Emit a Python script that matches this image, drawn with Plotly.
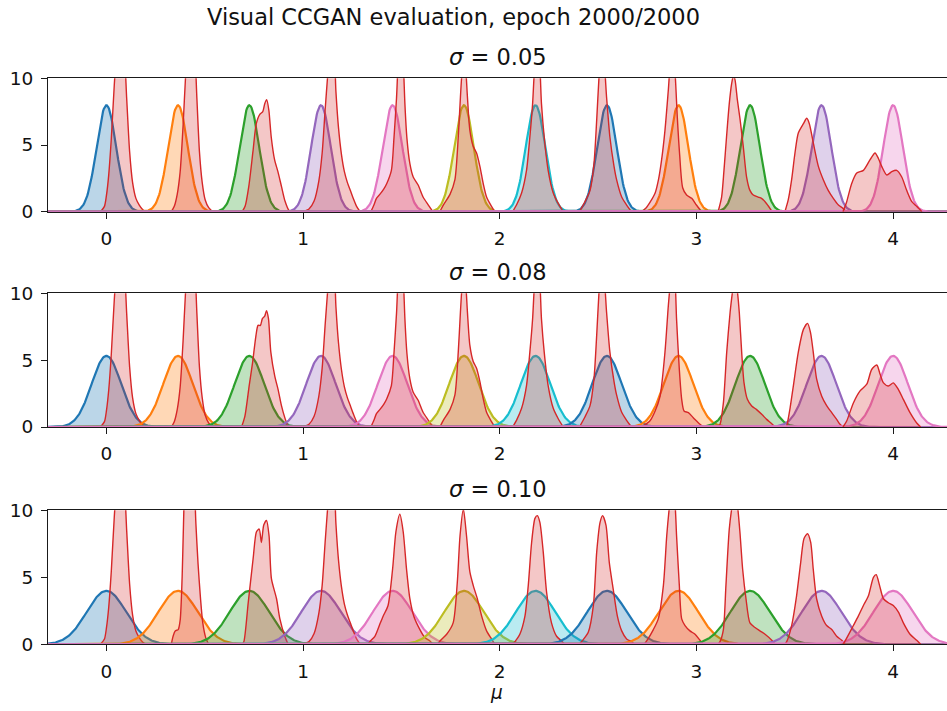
import numpy as np
import plotly.graph_objects as go

# ---------------- data ----------------
MU = [0.0, 0.364, 0.727, 1.091, 1.455, 1.818, 2.182, 2.545, 2.909, 3.273, 3.636, 4.0]
SIGMAS = [0.05, 0.075, 0.10]
PANEL_TITLES = ["<i>σ</i> = 0.05", "<i>σ</i> = 0.08", "<i>σ</i> = 0.10"]
SUPTITLE = "Visual CCGAN evaluation, epoch 2000/2000"
XLABEL = "<i>μ</i>"
COLORS = ["#1f77b4", "#ff7f0e", "#2ca02c", "#9467bd", "#e377c2", "#bcbd22",
          "#17becf", "#1f77b4", "#ff7f0e", "#2ca02c", "#9467bd", "#e377c2"]
X_TICKS = [0, 1, 2, 3, 4]
Y_TICKS = [0, 5, 10]

# generated (red) densities, as (mu, density) pairs
GEN_005 = [
    [(-0.03, 0), (-0.01, 0.4), (0.0, 1.2), (0.012, 2.8), (0.025, 5.5), (0.04, 9.5), (0.055, 12.5), (0.07, 13.5), (0.088, 12.5), (0.103, 8.5), (0.118, 4.5), (0.133, 2.2), (0.15, 1.0), (0.167, 0.5), (0.185, 0.15), (0.2, 0)],
    [(0.33, 0), (0.345, 0.4), (0.36, 1.3), (0.375, 3.0), (0.39, 6.5), (0.402, 10), (0.417, 13), (0.432, 13.5), (0.447, 12.5), (0.46, 8.5), (0.473, 4.5), (0.487, 2.2), (0.502, 0.9), (0.52, 0.3), (0.54, 0)],
    [(0.69, 0), (0.705, 0.4), (0.724, 1.9), (0.745, 4.5), (0.762, 6.6), (0.78, 7.3), (0.795, 7.5), (0.805, 8.1), (0.815, 8.4), (0.826, 7.6), (0.838, 5.6), (0.855, 3.9), (0.872, 3.0), (0.89, 1.9), (0.908, 0.8), (0.928, 0.1), (0.94, 0)],
    [(1.0, 0), (1.03, 0.2), (1.056, 0.8), (1.08, 2.3), (1.097, 4.4), (1.112, 7.6), (1.125, 10.2), (1.14, 13), (1.155, 12.5), (1.167, 9), (1.18, 6.3), (1.195, 4.3), (1.21, 3.0), (1.225, 2.2), (1.24, 1.6), (1.255, 1.0), (1.272, 0.4), (1.29, 0)],
    [(1.345, 0), (1.36, 0.5), (1.373, 1.0), (1.39, 1.3), (1.41, 1.7), (1.425, 2.1), (1.449, 3.1), (1.462, 5.5), (1.475, 8.5), (1.487, 12), (1.5, 13), (1.51, 11), (1.518, 8), (1.528, 5.5), (1.543, 3.6), (1.56, 2.6), (1.585, 2.0), (1.61, 1.1), (1.637, 0.5), (1.66, 0)],
    [(1.695, 0), (1.713, 0.5), (1.747, 1.3), (1.772, 2.4), (1.789, 5.6), (1.8, 8.6), (1.808, 10.5), (1.818, 12), (1.828, 10.5), (1.836, 8.5), (1.848, 6.1), (1.865, 4.9), (1.882, 4.4), (1.899, 3.4), (1.916, 2.1), (1.933, 1.1), (1.958, 0.4), (1.975, 0)],
    [(2.065, 0), (2.085, 0.5), (2.111, 1.4), (2.136, 3.1), (2.153, 5.6), (2.167, 8.1), (2.176, 10.5), (2.188, 12), (2.2, 11.5), (2.212, 8.1), (2.226, 5.6), (2.246, 3.1), (2.272, 1.4), (2.298, 0.6), (2.323, 0)],
    [(2.405, 0), (2.433, 0.75), (2.459, 1.6), (2.479, 3.6), (2.493, 6.9), (2.505, 10.2), (2.515, 12), (2.528, 11.5), (2.543, 8.6), (2.56, 5.6), (2.581, 3.4), (2.594, 2.4), (2.62, 1.1), (2.645, 0.5), (2.67, 0)],
    [(2.72, 0), (2.745, 0.3), (2.766, 0.75), (2.79, 1.4), (2.807, 2.4), (2.823, 3.9), (2.84, 6.1), (2.857, 9.1), (2.87, 11.5), (2.882, 12), (2.893, 10), (2.903, 7), (2.915, 4.2), (2.93, 1.8), (2.95, 1.25), (2.976, 1.0), (3.0, 0.5), (3.026, 0)],
    [(3.11, 0), (3.128, 1.1), (3.14, 3.1), (3.153, 5.6), (3.167, 8.1), (3.179, 9.6), (3.188, 10.2), (3.196, 9.9), (3.208, 8.4), (3.222, 6.9), (3.238, 4.9), (3.255, 2.6), (3.272, 1.6), (3.289, 1.25), (3.314, 1.1), (3.331, 1.0), (3.357, 0.6), (3.385, 0)],
    [(3.45, 0), (3.467, 0.9), (3.484, 2.4), (3.501, 4.4), (3.518, 5.9), (3.544, 6.6), (3.561, 7.0), (3.574, 6.6), (3.595, 5.1), (3.62, 3.4), (3.645, 2.4), (3.67, 1.6), (3.696, 1.0), (3.722, 0.5), (3.745, 0.25), (3.76, 0)],
    [(3.745, 0), (3.764, 0.75), (3.789, 2.1), (3.815, 2.9), (3.849, 3.1), (3.883, 3.9), (3.908, 4.4), (3.925, 4.0), (3.942, 3.4), (3.968, 2.75), (3.993, 3.0), (4.018, 3.1), (4.044, 2.6), (4.069, 1.6), (4.095, 0.75), (4.12, 0.4), (4.146, 0)],
]

GEN_008 = [
    [(-0.03, 0), (-0.01, 0.4), (0.0, 1.2), (0.012, 2.8), (0.025, 5.5), (0.04, 9.5), (0.055, 12.5), (0.07, 13.5), (0.088, 12.5), (0.103, 8.5), (0.118, 4.5), (0.133, 2.2), (0.15, 1.0), (0.167, 0.5), (0.185, 0.15), (0.2, 0)],
    [(0.33, 0), (0.345, 0.4), (0.36, 1.3), (0.375, 3.0), (0.39, 6.5), (0.402, 10), (0.417, 13), (0.432, 13.5), (0.447, 12.5), (0.46, 8.5), (0.473, 4.5), (0.487, 2.2), (0.502, 0.9), (0.52, 0.3), (0.54, 0)],
    [(0.687, 0), (0.704, 0.8), (0.726, 3.1), (0.743, 4.8), (0.76, 6.8), (0.771, 7.6), (0.783, 7.6), (0.793, 8.1), (0.805, 8.3), (0.814, 8.7), (0.824, 8.1), (0.836, 5.6), (0.856, 3.8), (0.873, 2.8), (0.89, 1.6), (0.907, 0.7), (0.924, 0)],
    [(1.0, 0), (1.03, 0.2), (1.056, 0.8), (1.08, 2.3), (1.097, 4.4), (1.112, 7.6), (1.125, 10.2), (1.14, 13), (1.155, 12.5), (1.167, 9), (1.18, 6.3), (1.195, 4.3), (1.21, 3.0), (1.225, 2.2), (1.24, 1.6), (1.255, 1.0), (1.272, 0.4), (1.29, 0)],
    [(1.345, 0), (1.36, 0.5), (1.373, 1.0), (1.39, 1.3), (1.41, 1.7), (1.425, 2.1), (1.449, 3.1), (1.462, 5.5), (1.475, 8.5), (1.487, 12), (1.5, 13), (1.51, 11), (1.518, 8), (1.528, 5.5), (1.543, 3.6), (1.56, 2.6), (1.585, 2.0), (1.61, 1.1), (1.637, 0.5), (1.66, 0)],
    [(1.695, 0), (1.713, 0.5), (1.747, 1.3), (1.772, 2.4), (1.789, 5.6), (1.8, 8.6), (1.808, 10.5), (1.818, 12), (1.828, 10.5), (1.836, 8.5), (1.848, 6.1), (1.865, 4.9), (1.882, 4.4), (1.899, 3.4), (1.916, 2.1), (1.933, 1.1), (1.958, 0.4), (1.975, 0)],
    [(2.065, 0), (2.085, 0.5), (2.111, 1.4), (2.136, 3.1), (2.153, 5.6), (2.167, 8.1), (2.176, 10.5), (2.188, 12), (2.2, 11.5), (2.212, 8.1), (2.226, 5.6), (2.246, 3.1), (2.272, 1.4), (2.298, 0.6), (2.323, 0)],
    [(2.405, 0), (2.433, 0.75), (2.459, 1.6), (2.479, 3.6), (2.493, 6.9), (2.505, 10.2), (2.515, 12), (2.528, 11.5), (2.543, 8.6), (2.56, 5.6), (2.581, 3.4), (2.594, 2.4), (2.62, 1.1), (2.645, 0.5), (2.67, 0)],
    [(2.72, 0), (2.763, 0.45), (2.79, 1.2), (2.815, 2.3), (2.84, 5.6), (2.857, 9.05), (2.869, 11), (2.88, 12), (2.891, 11), (2.899, 8.05), (2.913, 4.3), (2.925, 2.07), (2.937, 1.2), (2.959, 1.07), (2.984, 0.7), (3.018, 0.2), (3.035, 0)],
    [(3.11, 0), (3.12, 0.2), (3.137, 1.8), (3.154, 5.6), (3.171, 8.55), (3.184, 10.2), (3.196, 11.5), (3.208, 10.2), (3.218, 8.55), (3.23, 5.6), (3.242, 3.3), (3.259, 2.07), (3.281, 1.57), (3.306, 1.3), (3.332, 0.95), (3.357, 0.57), (3.383, 0.25), (3.4, 0)],
    [(3.459, 0), (3.476, 1.4), (3.493, 3.1), (3.518, 5.6), (3.544, 7.3), (3.565, 7.75), (3.58, 7.06), (3.594, 5.6), (3.611, 3.6), (3.637, 2.3), (3.662, 1.6), (3.688, 1.07), (3.713, 0.57), (3.73, 0.2), (3.745, 0)],
    [(3.745, 0), (3.764, 0.45), (3.798, 1.8), (3.832, 2.7), (3.866, 3.2), (3.891, 4.3), (3.917, 4.64), (3.934, 3.94), (3.951, 3.3), (3.976, 3.07), (4.001, 3.3), (4.027, 2.8), (4.052, 2.07), (4.086, 1.07), (4.12, 0.3), (4.14, 0)],
]

GEN_010 = [
    [(-0.03, 0), (-0.01, 0.4), (0.0, 1.2), (0.012, 2.8), (0.025, 5.5), (0.04, 9.5), (0.055, 12.5), (0.07, 13.5), (0.088, 12.5), (0.103, 8.5), (0.118, 4.5), (0.133, 2.2), (0.15, 1.0), (0.167, 0.5), (0.185, 0.15), (0.2, 0)],
    [(0.33, 0), (0.339, 0.6), (0.35, 1.0), (0.365, 1.1), (0.375, 1.8), (0.385, 5), (0.392, 9), (0.4, 12.5), (0.415, 14), (0.43, 14), (0.445, 12.5), (0.455, 9), (0.466, 6), (0.478, 3.5), (0.49, 1.6), (0.505, 0.5), (0.52, 0)],
    [(0.69, 0), (0.699, 0.2), (0.721, 3.1), (0.746, 6.4), (0.763, 8.4), (0.777, 8.6), (0.788, 7.6), (0.8, 8.9), (0.814, 9.25), (0.827, 8.1), (0.839, 4.9), (0.865, 3.4), (0.882, 1.9), (0.907, 0.6), (0.924, 0)],
    [(1.0, 0), (1.03, 0.2), (1.056, 0.8), (1.08, 2.3), (1.097, 4.4), (1.112, 7.6), (1.125, 10.2), (1.14, 13), (1.155, 12.5), (1.167, 9), (1.18, 6.3), (1.195, 4.3), (1.21, 3.0), (1.225, 2.2), (1.24, 1.6), (1.255, 1.0), (1.272, 0.4), (1.29, 0)],
    [(1.33, 0), (1.339, 0.2), (1.365, 0.6), (1.39, 1.5), (1.407, 2.1), (1.432, 2.9), (1.455, 5.6), (1.472, 8.4), (1.492, 9.7), (1.509, 8.4), (1.526, 5.6), (1.543, 3.4), (1.563, 2.1), (1.594, 1.1), (1.619, 0.5), (1.645, 0.25), (1.66, 0)],
    [(1.685, 0), (1.696, 0.25), (1.73, 0.75), (1.763, 1.6), (1.784, 4.6), (1.798, 8.1), (1.815, 10.1), (1.831, 8.1), (1.848, 5.4), (1.865, 4.4), (1.886, 3.4), (1.908, 2.1), (1.933, 1.0), (1.958, 0.4), (1.975, 0)],
    [(2.065, 0), (2.077, 0.2), (2.102, 0.75), (2.128, 2.1), (2.145, 4.4), (2.162, 7.6), (2.179, 9.4), (2.191, 9.6), (2.204, 9.1), (2.221, 6.9), (2.238, 3.9), (2.263, 1.6), (2.289, 0.6), (2.314, 0.25), (2.33, 0)],
    [(2.405, 0), (2.416, 0.2), (2.45, 0.9), (2.476, 2.9), (2.493, 6.9), (2.51, 9.1), (2.523, 9.6), (2.54, 8.9), (2.557, 6.1), (2.577, 4.1), (2.598, 2.1), (2.62, 1.0), (2.645, 0.4), (2.67, 0.2), (2.685, 0)],
    [(2.735, 0), (2.747, 0.25), (2.781, 1.1), (2.806, 1.9), (2.832, 4.4), (2.849, 8.1), (2.862, 10.2), (2.876, 12), (2.891, 10.5), (2.899, 8.1), (2.913, 4.4), (2.925, 1.9), (2.942, 1.4), (2.967, 1.0), (2.993, 0.75), (3.018, 0.3), (3.035, 0)],
    [(3.11, 0), (3.12, 0.2), (3.137, 1.1), (3.15, 4.4), (3.167, 8.6), (3.181, 10.3), (3.195, 11.5), (3.209, 10.3), (3.221, 8.4), (3.235, 5.6), (3.252, 3.4), (3.272, 1.6), (3.298, 1.25), (3.323, 1.0), (3.349, 0.75), (3.383, 0.3), (3.4, 0)],
    [(3.45, 0), (3.459, 0.2), (3.484, 1.4), (3.509, 3.6), (3.53, 6.1), (3.547, 7.9), (3.565, 8.25), (3.581, 7.6), (3.594, 5.6), (3.611, 3.4), (3.637, 2.1), (3.662, 1.4), (3.688, 1.1), (3.713, 0.6), (3.739, 0.3), (3.755, 0)],
    [(3.745, 0), (3.756, 0.25), (3.798, 1.4), (3.823, 2.1), (3.849, 2.9), (3.874, 3.6), (3.9, 5.0), (3.914, 5.2), (3.931, 4.4), (3.951, 3.4), (3.976, 3.1), (4.001, 2.9), (4.027, 2.4), (4.052, 1.6), (4.086, 0.75), (4.12, 0.3), (4.14, 0)],
]
GENERATED = [GEN_005, GEN_008, GEN_010]

# ---------------- figure ----------------
W, H = 947, 711
ML = 48
FONT = "DejaVu Sans"
RED = "#d62728"
INK = "#111111"


def rgba(hexc, a):
    hexc = hexc.lstrip("#")
    r, g, b = int(hexc[0:2], 16), int(hexc[2:4], 16), int(hexc[4:6], 16)
    return f"rgba({r},{g},{b},{a})"


def px_x(px):
    return (px - ML) / (W - ML)


def px_y(py):
    return 1 - py / H


# pixel rows of y=0 and y=10 for each panel
PANEL_PX = [(211.7, 78.3), (427.0, 293.3), (644.3, 510.3)]
TITLE_PY = [57, 272, 489]

xgrid = np.linspace(-0.31, 4.31, 1200)
fig = go.Figure()

for p in range(3):
    xa = "x" if p == 0 else f"x{p+1}"
    ya = "y" if p == 0 else f"y{p+1}"
    s = SIGMAS[p]
    for i, m in enumerate(MU):
        dens = np.exp(-0.5 * ((xgrid - m) / s) ** 2) / (s * np.sqrt(2 * np.pi))
        fig.add_trace(go.Scatter(
            x=xgrid, y=dens, xaxis=xa, yaxis=ya, mode="lines",
            line=dict(color=COLORS[i], width=2.2),
            fill="tozeroy", fillcolor=rgba(COLORS[i], 0.3),
            showlegend=False, hoverinfo="skip"))
        pts = GENERATED[p][i]
        fig.add_trace(go.Scatter(
            x=[q[0] for q in pts], y=[q[1] for q in pts], xaxis=xa, yaxis=ya,
            mode="lines", line=dict(color=RED, width=1.4, shape="spline", smoothing=0.7),
            fill="tozeroy", fillcolor=rgba(RED, 0.26),
            showlegend=False, hoverinfo="skip"))

axis_common = dict(showline=True, linecolor="#1a1a1a", linewidth=1.2, ticks="outside",
                   ticklen=6, tickwidth=1.2, tickcolor="#1a1a1a", showgrid=False,
                   zeroline=False, automargin=False, ticklabelstandoff=4,
                   tickfont=dict(family=FONT, size=18.5, color=INK))

layout = dict(width=W, height=H, margin=dict(l=ML, r=0, t=0, b=0, autoexpand=False),
              plot_bgcolor="white", paper_bgcolor="white", showlegend=False,
              font=dict(family=FONT, color=INK))
for p in range(3):
    y0, y10 = PANEL_PX[p]
    xk = "xaxis" if p == 0 else f"xaxis{p+1}"
    yk = "yaxis" if p == 0 else f"yaxis{p+1}"
    ya = "y" if p == 0 else f"y{p+1}"
    xa = "x" if p == 0 else f"x{p+1}"
    layout[xk] = dict(axis_common, domain=[0, 1], range=[-0.297, 4.274], anchor=ya,
                      tickvals=X_TICKS, ticktext=[str(t) for t in X_TICKS], mirror=True)
    layout[yk] = dict(axis_common, domain=[px_y(y0), px_y(y10)], range=[0, 10], anchor=xa,
                      tickvals=Y_TICKS, ticktext=[str(t) for t in Y_TICKS])

annotations = [dict(text=SUPTITLE, x=px_x(453.5), y=px_y(17), xref="paper", yref="paper",
                    showarrow=False, xanchor="center", yanchor="middle",
                    font=dict(family=FONT, size=22.5, color=INK))]
for p in range(3):
    annotations.append(dict(text=PANEL_TITLES[p], x=px_x(498), y=px_y(TITLE_PY[p]),
                            xref="paper", yref="paper", showarrow=False,
                            xanchor="center", yanchor="middle",
                            font=dict(family=FONT, size=22.5, color=INK)))
annotations.append(dict(text=XLABEL, x=px_x(496), y=px_y(692), xref="paper", yref="paper",
                        showarrow=False, xanchor="center", yanchor="middle",
                        font=dict(family=FONT, size=18.5, color=INK)))
layout["annotations"] = annotations

fig.update_layout(**layout)
fig.write_html("out.html")
